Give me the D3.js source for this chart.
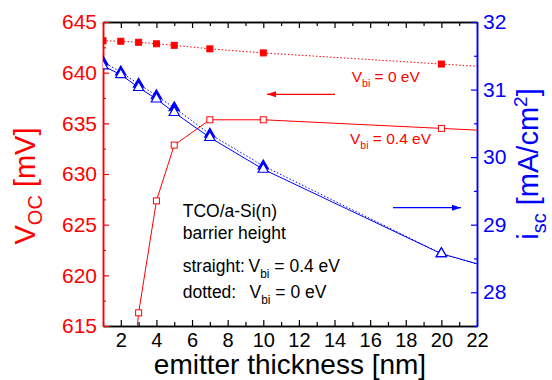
<!DOCTYPE html>
<html>
<head>
<meta charset="utf-8">
<script src="https://cdn.jsdelivr.net/npm/d3@7"></script>
<style>
  body { margin: 0; background: #fff; }
  svg { font-family: "Liberation Sans", Arial, sans-serif; }
</style>
</head>
<body>
<div id="chart"></div>
<script>
// emitter thickness [nm]
const thickness = [1, 2, 3, 4, 5, 7, 10, 20, 30];
const thicknessOpen = [2, 3, 4, 5, 7, 10, 20, 30];

// Voc [mV]
const vocVbi0 = [643.15, 643.1, 643.0, 642.85, 642.7, 642.35, 641.95, 640.85, 639.75];
const vocVbi04 = [598, 616.3, 627.35, 632.85, 635.35, 635.35, 634.5, 633.65];

// isc [mA/cm2]
const iscVbi0 = [31.41, 31.26, 31.08, 30.91, 30.73, 30.34, 29.87, 28.57, 27.82];
const iscVbi04 = [31.35, 31.22, 31.03, 30.86, 30.66, 30.29, 29.82, 28.57, 27.82];

const xTicks = [2, 4, 6, 8, 10, 12, 14, 16, 18, 20, 22];
const vocTicks = [615, 620, 625, 630, 635, 640, 645];
const iscTicks = [28, 29, 30, 31, 32];

const W = 552, H = 380;
const m = { left: 103, right: 75, top: 22, bottom: 54 };
const pw = W - m.left - m.right, ph = H - m.top - m.bottom;
const RED = "#ff0000", BLUE = "#0000ff";

const svg = d3.select("#chart").append("svg").attr("width", W).attr("height", H);
const g = svg.append("g").attr("transform", `translate(${m.left},${m.top})`);

const x = d3.scaleLinear().domain([1, 22]).range([0, pw]);
const yL = d3.scaleLinear().domain([615, 645]).range([ph, 0]);
const yR = d3.scaleLinear().domain([27.5, 32]).range([ph, 0]);

svg.append("defs").append("clipPath").attr("id", "clip")
  .append("rect").attr("width", pw).attr("height", ph);

const minorX = d3.range(1, 23, 1).filter(v => v % 2 !== 0);
const minorL = d3.range(617.5, 645, 5);
const minorR = d3.range(27.5, 32, 1);

function styleAxis(sel, color, size) {
  sel.select(".domain").attr("stroke", color).attr("stroke-width", 1.5);
  sel.selectAll(".tick line").attr("stroke", color).attr("stroke-width", 1.2);
  sel.selectAll("text").attr("fill", color).attr("font-size", size);
}

// bottom axis
const bottom = g.append("g").attr("transform", `translate(0,${ph})`)
  .call(d3.axisBottom(x).tickValues(xTicks).tickSize(-6).tickSizeOuter(0).tickPadding(7));
styleAxis(bottom, "#000", 20);
g.append("g").attr("transform", `translate(0,${ph})`)
  .call(d3.axisBottom(x).tickValues(minorX).tickSize(-4).tickSizeOuter(0).tickFormat(""))
  .call(s => styleAxis(s, "#000", 0));

// top axis
g.append("g")
  .call(d3.axisTop(x).tickValues(xTicks).tickSize(-6).tickSizeOuter(0).tickFormat(""))
  .call(s => styleAxis(s, "#000", 0));
g.append("g")
  .call(d3.axisTop(x).tickValues(minorX).tickSize(-4).tickSizeOuter(0).tickFormat(""))
  .call(s => styleAxis(s, "#000", 0));

// left axis
const left = g.append("g")
  .call(d3.axisLeft(yL).tickValues(vocTicks).tickSize(-6).tickSizeOuter(0).tickPadding(6));
styleAxis(left, RED, 21);
g.append("g")
  .call(d3.axisLeft(yL).tickValues(minorL).tickSize(-3).tickSizeOuter(0).tickFormat(""))
  .call(s => styleAxis(s, RED, 0));

// right axis
const right = g.append("g").attr("transform", `translate(${pw},0)`)
  .call(d3.axisRight(yR).tickValues(iscTicks).tickSize(-6).tickSizeOuter(0).tickPadding(6)
    .tickFormat(d3.format("d")));
styleAxis(right, BLUE, 21);
g.append("g").attr("transform", `translate(${pw},0)`)
  .call(d3.axisRight(yR).tickValues(minorR).tickSize(-3).tickSizeOuter(0).tickFormat(""))
  .call(s => styleAxis(s, BLUE, 0));

// data
const plot = g.append("g").attr("clip-path", "url(#clip)");

function series(xs, ys, y, color, dash) {
  const pts = xs.map((d, i) => [d, ys[i]]);
  plot.append("path").datum(pts)
    .attr("fill", "none").attr("stroke", color).attr("stroke-width", 1)
    .attr("stroke-dasharray", dash)
    .attr("d", d3.line().x(d => x(d[0])).y(d => y(d[1])));
  return pts;
}

function squares(pts, y, filled) {
  plot.selectAll(null).data(pts).enter().append("rect")
    .attr("x", d => x(d[0]) - 3).attr("y", d => y(d[1]) - 3)
    .attr("width", 6).attr("height", 6)
    .attr("fill", filled ? RED : "#fff").attr("stroke", RED).attr("stroke-width", 1);
}

function triangles(pts, y, filled) {
  const tri = d3.symbol().type(d3.symbolTriangle).size(46);
  plot.selectAll(null).data(pts).enter().append("path")
    .attr("d", tri)
    .attr("transform", d => `translate(${x(d[0])},${y(d[1])})`)
    .attr("fill", filled ? BLUE : "#fff").attr("stroke", BLUE).attr("stroke-width", 1.2);
}

const rv0 = series(thickness, vocVbi0, yL, RED, "1.5,2");
const rv4 = series(thicknessOpen, vocVbi04, yL, RED, null);
const bi0 = series(thickness, iscVbi0, yR, BLUE, "1.5,2");
const bi4 = series(thickness, iscVbi04, yR, BLUE, null);
squares(rv0, yL, true);
squares(rv4, yL, false);
triangles(bi0, yR, true);
triangles(bi4, yR, false);

// arrows
function arrow(x1, x2, y, color) {
  svg.append("line").attr("x1", x1).attr("x2", x2).attr("y1", y).attr("y2", y)
    .attr("stroke", color).attr("stroke-width", 1.2);
  const dir = x2 > x1 ? 1 : -1;
  svg.append("path")
    .attr("d", `M${x2},${y} L${x2 - dir * 9},${y - 3} L${x2 - dir * 9},${y + 3} Z`)
    .attr("fill", color);
}
arrow(335, 267, 94.3, RED);
arrow(393, 461, 207.7, BLUE);

// labels with subscripts
function vbiLabel(xp, yp, value, color, size) {
  const t = svg.append("text").attr("x", xp).attr("y", yp)
    .attr("fill", color).attr("font-size", size);
  t.append("tspan").text("V");
  t.append("tspan").text("bi").attr("font-size", size * 0.68).attr("dy", size * 0.33);
  t.append("tspan").text(` = ${value} eV`).attr("dy", -size * 0.33);
}
vbiLabel(351.7, 81.7, "0", RED, 15.5);
vbiLabel(350, 144, "0.4", RED, 15.5);

const note = svg.append("g").attr("fill", "#000").attr("font-size", 17.5);
note.append("text").attr("x", 182.7).attr("y", 216.7).text("TCO/a-Si(n)");
note.append("text").attr("x", 182.7).attr("y", 238.5).text("barrier height");
note.append("text").attr("x", 182.7).attr("y", 272.3).text("straight:");
note.append("text").attr("x", 182.7).attr("y", 298.3).text("dotted:");
vbiLabel(248.5, 272.3, "0.4", "#000", 17.5);
vbiLabel(249.5, 298.3, "0", "#000", 17.5);

// axis titles
svg.append("text").attr("x", m.left + pw / 2).attr("y", 373.5)
  .attr("text-anchor", "middle").attr("font-size", 28).attr("fill", "#000")
  .text("emitter thickness [nm]");

const yt = svg.append("text").attr("transform", "translate(35,186) rotate(-90)")
  .attr("text-anchor", "middle").attr("font-size", 29).attr("fill", RED);
yt.append("tspan").text("V");
yt.append("tspan").text("OC").attr("font-size", 20).attr("dy", 7);
yt.append("tspan").text(" [mV]").attr("dy", -7);

const rt = svg.append("text").attr("transform", "translate(538,164) rotate(-90)")
  .attr("text-anchor", "middle").attr("font-size", 29).attr("fill", BLUE);
rt.append("tspan").text("i");
rt.append("tspan").text("sc").attr("font-size", 20).attr("dy", 8);
rt.append("tspan").text(" [mA/cm").attr("dy", -8);
rt.append("tspan").text("2").attr("font-size", 19).attr("dy", -11);
rt.append("tspan").text("]").attr("dy", 11);
</script>
</body>
</html>
